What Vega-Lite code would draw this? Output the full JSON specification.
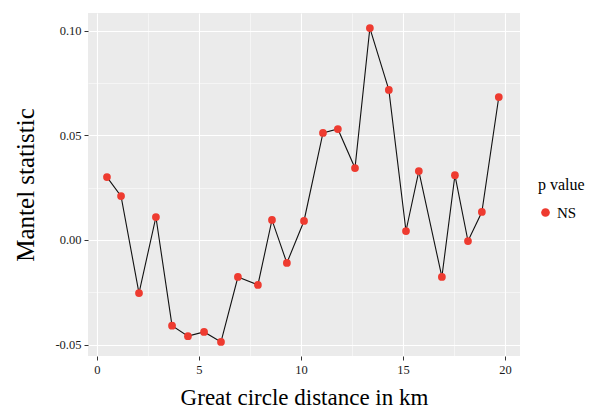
{
  "$schema": "https://vega.github.io/schema/vega-lite/v6.json",
  "width": 432,
  "height": 343,
  "autosize": {"type": "none"},
  "padding": {"left": 88, "top": 13, "right": 70, "bottom": 56},
  "background": "white",
  "config": {
    "view": {"fill": "#EBEBEB", "stroke": null},
    "font": "Liberation Serif"
  },
  "data": {
    "values": [
      {"distance": 0.49, "mantel": 0.0301, "p": "NS"},
      {"distance": 1.18, "mantel": 0.021, "p": "NS"},
      {"distance": 2.06, "mantel": -0.0254, "p": "NS"},
      {"distance": 2.89, "mantel": 0.011, "p": "NS"},
      {"distance": 3.68, "mantel": -0.041, "p": "NS"},
      {"distance": 4.46, "mantel": -0.046, "p": "NS"},
      {"distance": 5.25, "mantel": -0.044, "p": "NS"},
      {"distance": 6.08, "mantel": -0.0488, "p": "NS"},
      {"distance": 6.91, "mantel": -0.0177, "p": "NS"},
      {"distance": 7.89, "mantel": -0.0215, "p": "NS"},
      {"distance": 8.58, "mantel": 0.0096, "p": "NS"},
      {"distance": 9.31, "mantel": -0.011, "p": "NS"},
      {"distance": 10.15, "mantel": 0.0091, "p": "NS"},
      {"distance": 11.08, "mantel": 0.0512, "p": "NS"},
      {"distance": 11.81, "mantel": 0.0531, "p": "NS"},
      {"distance": 12.65, "mantel": 0.0344, "p": "NS"},
      {"distance": 13.38, "mantel": 0.1014, "p": "NS"},
      {"distance": 14.31, "mantel": 0.0718, "p": "NS"},
      {"distance": 15.15, "mantel": 0.0043, "p": "NS"},
      {"distance": 15.78, "mantel": 0.033, "p": "NS"},
      {"distance": 16.91, "mantel": -0.0177, "p": "NS"},
      {"distance": 17.55, "mantel": 0.031, "p": "NS"},
      {"distance": 18.19, "mantel": -0.0005, "p": "NS"},
      {"distance": 18.87, "mantel": 0.0134, "p": "NS"},
      {"distance": 19.7, "mantel": 0.0684, "p": "NS"}
    ]
  },
  "encoding": {
    "x": {
      "field": "distance",
      "type": "quantitative",
      "scale": {"domain": [-0.44, 20.74], "nice": false, "zero": false},
      "axis": {
        "title": "Great circle distance in km",
        "titleFont": "Liberation Serif",
        "titleFontSize": 23,
        "titleFontWeight": "normal",
        "titleColor": "black",
        "titlePadding": 11,
        "values": [0, 2.5, 5, 7.5, 10, 12.5, 15, 17.5, 20],
        "labelExpr": "datum.value % 5 === 0 ? format(datum.value, 'd') : ''",
        "labelFont": "Liberation Serif",
        "labelFontSize": 12.5,
        "labelColor": "#1a1a1a",
        "labelPadding": 3,
        "domain": false,
        "tickColor": "#333333",
        "tickSize": 4,
        "tickOpacity": {"condition": {"test": "datum.value % 5 === 0", "value": 1}, "value": 0},
        "grid": true,
        "gridColor": "white",
        "gridWidth": {"condition": {"test": "datum.value % 5 === 0", "value": 1.1}, "value": 0.5}
      }
    },
    "y": {
      "field": "mantel",
      "type": "quantitative",
      "scale": {"domain": [-0.0555, 0.1086], "nice": false, "zero": false},
      "axis": {
        "title": "Mantel statistic",
        "titleFont": "Liberation Serif",
        "titleFontSize": 25,
        "titleFontWeight": "normal",
        "titleColor": "black",
        "titlePadding": 16,
        "values": [-0.05, -0.025, 0, 0.025, 0.05, 0.075, 0.1],
        "labelExpr": "abs(round(datum.value * 1000)) % 50 === 0 ? replace(format(datum.value, '.2f'), '\u2212', '-') : ''",
        "labelFont": "Liberation Serif",
        "labelFontSize": 12.5,
        "labelColor": "#1a1a1a",
        "labelPadding": 3,
        "domain": false,
        "tickColor": "#333333",
        "tickSize": 4,
        "tickOpacity": {"condition": {"test": "abs(round(datum.value * 1000)) % 50 === 0", "value": 1}, "value": 0},
        "grid": true,
        "gridColor": "white",
        "gridWidth": {"condition": {"test": "abs(round(datum.value * 1000)) % 50 === 0", "value": 1.1}, "value": 0.5}
      }
    }
  },
  "layer": [
    {
      "mark": {"type": "line", "color": "#111111", "strokeWidth": 1.1}
    },
    {
      "mark": {"type": "circle", "size": 60, "opacity": 1},
      "encoding": {
        "color": {
          "field": "p",
          "type": "nominal",
          "scale": {"range": ["#EE3B30"]},
          "legend": {
            "title": "p value",
            "orient": "none",
            "legendX": 450,
            "legendY": 164,
            "titleFont": "Liberation Serif",
            "titleFontSize": 16,
            "titleFontWeight": "normal",
            "titleColor": "black",
            "titlePadding": 12,
            "labelFont": "Liberation Serif",
            "labelFontSize": 15,
            "labelColor": "black",
            "symbolSize": 75,
            "symbolType": "circle",
            "symbolOpacity": 1
          }
        }
      }
    }
  ]
}
